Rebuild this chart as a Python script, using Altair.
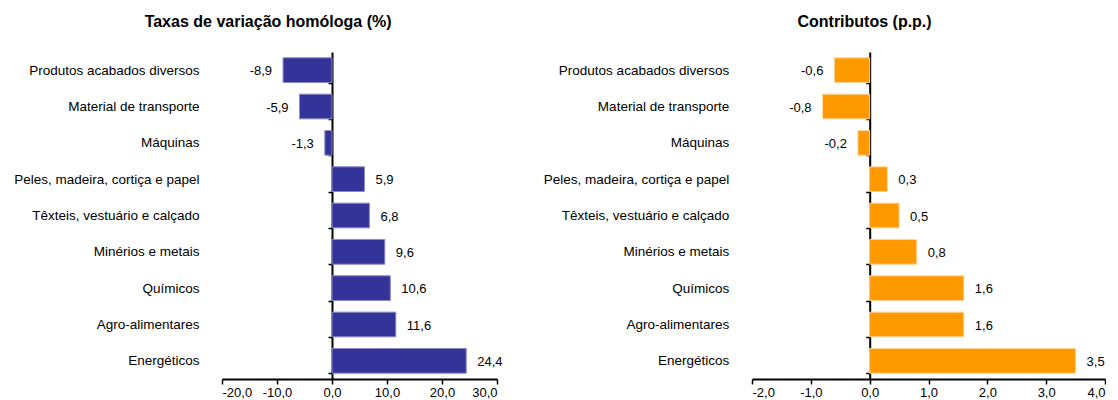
import altair as alt
import pandas as pd

categories = [
    "Produtos acabados diversos",
    "Material de transporte",
    "Máquinas",
    "Peles, madeira, cortiça e papel",
    "Têxteis, vestuário e calçado",
    "Minérios e metais",
    "Químicos",
    "Agro-alimentares",
    "Energéticos",
]
taxas = [-8.9, -5.9, -1.3, 5.9, 6.8, 9.6, 10.6, 11.6, 24.4]
contributos = [-0.6, -0.8, -0.2, 0.3, 0.5, 0.8, 1.6, 1.6, 3.5]
left_ticks = [-20, -10, 0, 10, 20, 30]
right_ticks = [-2, -1, 0, 1, 2, 3, 4]

FONT = "Liberation Sans"
FMT = "replace(replace(format({v}, '.1f'), '.', ','), '\u2212', '-')"


def panel(values, title, color, stroke, domain, ticks, width, zero_offset,
          label_pad, title_dx):
    df = pd.DataFrame({"cat": categories, "v": values})
    y = alt.Y(
        "cat:N", sort=categories, title=None,
        scale=alt.Scale(paddingInner=0.32, paddingOuter=0.16),
        axis=alt.Axis(
            offset=-zero_offset, domain=True, domainColor="black",
            domainWidth=2, ticks=True, tickBand="extent", tickSize=4,
            tickColor="black", tickWidth=1.5, labelPadding=label_pad,
            labelFont=FONT, labelFontSize=13.5, labelColor="black",
            grid=False, labelLimit=400,
        ),
    )
    x = alt.X(
        "v:Q", title=None,
        scale=alt.Scale(domain=domain, nice=False),
        axis=alt.Axis(
            values=ticks, labelExpr=FMT.format(v="datum.value"),
            domainColor="black", domainWidth=2, tickColor="black",
            tickWidth=1.5, tickSize=5, labelPadding=2, labelFont=FONT,
            labelFontSize=13, labelColor="black", grid=False,
        ),
    )
    base = alt.Chart(df).transform_calculate(lbl=FMT.format(v="datum.v"))
    bars = base.mark_bar(color=color, stroke=stroke, strokeWidth=1).encode(
        x=x, x2=alt.datum(0), y=y
    )
    pos = base.transform_filter("datum.v >= 0").mark_text(
        align="left", baseline="middle", dx=11, dy=1, font=FONT,
        fontSize=13, color="black"
    ).encode(x=x, y=y, text="lbl:N")
    neg = base.transform_filter("datum.v < 0").mark_text(
        align="right", baseline="middle", dx=-11, dy=1, font=FONT,
        fontSize=13, color="black"
    ).encode(x=x, y=y, text="lbl:N")
    return alt.layer(bars, pos, neg).properties(
        width=width, height=327,
        title=alt.TitleParams(
            title, font=FONT, fontSize=16, fontWeight="bold", color="black",
            anchor="middle", frame="bounds", offset=15, dx=title_dx,
        ),
    )


left = panel(taxas, "Taxas de variação homóloga (%)", "#333399", "#8a8ac4",
             [-20, 30], left_ticks, 275, 110, 129, 10)
right = panel(contributos, "Contributos (p.p.)", "#FF9900", "#FFD59A",
              [-2, 4], right_ticks, 353, 117.7, 137, 40)

chart = alt.hconcat(left, right, spacing=40).properties(
    padding={"left": 5, "top": 6, "right": 0, "bottom": 0},
    background="white",
).configure_view(stroke=None)

chart.save("out.html", embed_options={"renderer": "svg", "actions": False})
